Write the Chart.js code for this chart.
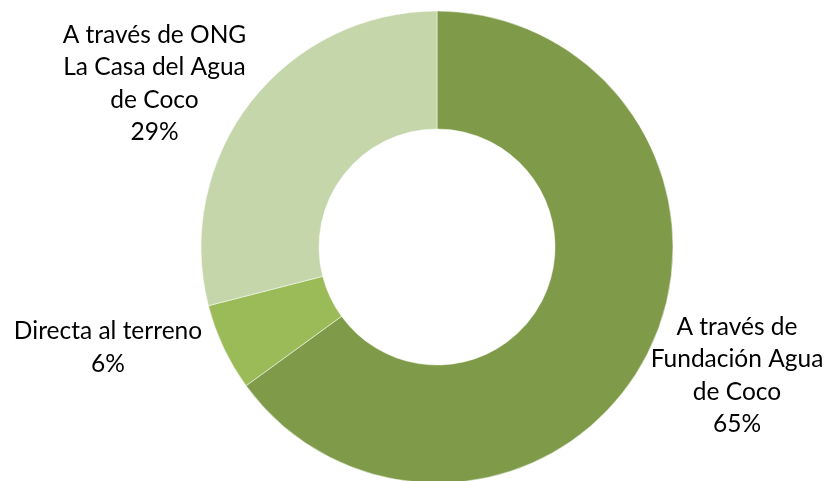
<!DOCTYPE html>
<html>
<head>
<meta charset="utf-8">
<script src="https://cdn.jsdelivr.net/npm/chart.js@4"></script>
<style>
  html, body { margin: 0; padding: 0; background: #ffffff; }
  #wrap { width: 830px; height: 481px; position: relative; }
</style>
</head>
<body>
<div id="wrap"><canvas id="c"></canvas></div>
<script>
// Data
const categories = [
  ["A través de", "Fundación Agua", "de Coco"],
  ["Directa al terreno"],
  ["A través de ONG", "La Casa del Agua", "de Coco"]
];
const values = [65, 6, 29];
const percentLabels = ["65%", "6%", "29%"];
const colors = ["#7F9B4A", "#9BBB59", "#C5D6AA"];

// label placement relative to doughnut center (styling, not data)
const labelOffsets = [
  { dx: 300, dy: 128.5 },
  { dx: -329, dy: 100.5 },
  { dx: -282.5, dy: -163.5 }
];

const labelPlugin = {
  id: 'outsideLabels',
  afterDatasetsDraw(chart) {
    const ctx = chart.ctx;
    const meta = chart.getDatasetMeta(0);
    ctx.save();
    ctx.font = '24.5px Lato, "Open Sans", sans-serif';
    ctx.fillStyle = '#000000';
    ctx.textAlign = 'center';
    ctx.textBaseline = 'middle';
    const lineH = 32.5;
    meta.data.forEach((arc, i) => {
      const lines = categories[i].concat([percentLabels[i]]);
      const cx = arc.x + labelOffsets[i].dx;
      const cy = arc.y + labelOffsets[i].dy;
      const startY = cy - (lines.length - 1) * lineH / 2;
      lines.forEach((t, j) => ctx.fillText(t, cx, startY + j * lineH));
    });
    ctx.restore();
  }
};

new Chart(document.getElementById('c'), {
  type: 'doughnut',
  data: {
    labels: categories.map(c => c.join(' ')),
    datasets: [{
      data: values,
      backgroundColor: colors,
      borderColor: '#ffffff',
      borderWidth: 0.5,
      radius: 236,
      cutout: '50%'
    }]
  },
  options: {
    responsive: true,
    maintainAspectRatio: false,
    animation: false,
    layout: { padding: { left: 201, right: 157, top: 13, bottom: 0 } },
    plugins: {
      legend: { display: false },
      tooltip: { enabled: false }
    }
  },
  plugins: [labelPlugin]
});
</script>
</body>
</html>
